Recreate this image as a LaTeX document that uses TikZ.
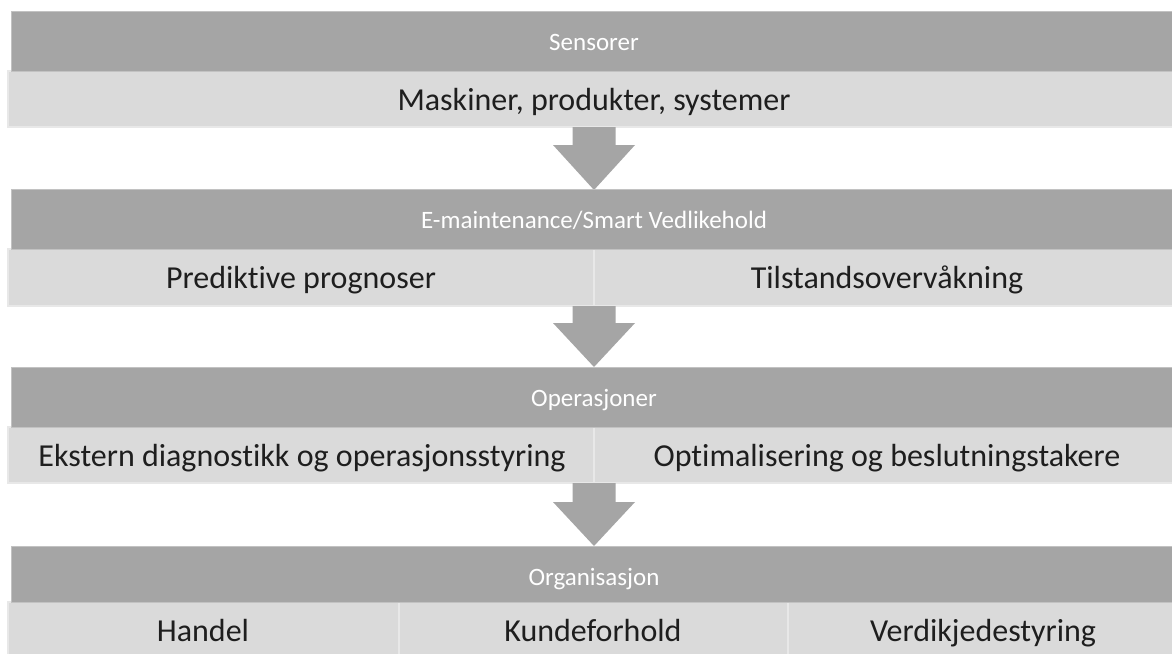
\documentclass[tikz,border=0pt]{standalone}
\usepackage{fontspec}
\setmainfont{Carlito}[Ligatures={NoCommon}]
\definecolor{hdr}{HTML}{A5A5A5}
\definecolor{cell}{HTML}{DADADA}
\definecolor{hdredge}{HTML}{C2C2C2}
\definecolor{celledge}{HTML}{E8E8E8}
\definecolor{celltextcol}{HTML}{1E1E1E}
\begin{document}
\begin{tikzpicture}[x=1pt,y=-1pt,
  hdrbox/.style={fill=hdr, draw=hdredge, line width=1pt},
  cellbox/.style={fill=cell, draw=celledge, line width=1.5pt},
  divider/.style={draw=celledge, line width=1.5pt},
  hdrtext/.style={text=white, font=\fontsize{25}{30}\selectfont, anchor=base, inner sep=0pt},
  celltext/.style={text=celltextcol, font=\fontsize{32}{38}\selectfont, anchor=base, inner sep=0pt},
  flowarrow/.style={fill=hdr, draw=none}]
\clip (0,0) rectangle (1172,653);
\fill[white] (0,0) rectangle (1172,653);

% block arrow: #1 = top of stem, #2 = start of head, #3 = tip
\newcommand\downarrowshape[3]{%
  \fill[flowarrow] (572.5,#1) -- (615.5,#1) -- (615.5,#2) -- (635,#2)
    -- (594,#3) -- (553,#2) -- (572.5,#2) -- cycle;}

% --- Sensorer
\draw[cellbox] (8,71) rectangle (1180,127);
\draw[hdrbox] (11,11) rectangle (1180,71);
\node[hdrtext] (sensorer) at (594,50) {Sensorer};
\node[celltext] (maskiner) at (594,110) {Maskiner, produkter, systemer};

\downarrowshape{127}{145}{190}

% --- E-maintenance
\draw[cellbox] (8,249) rectangle (1180,306);
\draw[divider] (594,249) -- (594,306);
\draw[hdrbox] (11,189) rectangle (1180,249);
\node[hdrtext] (emaint) at (594,228) {E-maintenance/Smart Vedlikehold};
\node[celltext] (prediktive) at (301,288) {Prediktive prognoser};
\node[celltext] (tilstand) at (887,288) {Tilstandsovervåkning};

\downarrowshape{306}{323}{367}

% --- Operasjoner
\draw[cellbox] (8,427) rectangle (1180,483);
\draw[divider] (594,427) -- (594,483);
\draw[hdrbox] (11,367) rectangle (1180,427);
\node[hdrtext] (operasjoner) at (594,406) {Operasjoner};
\node[celltext] (ekstern) at (302,466) {Ekstern diagnostikk og operasjonsstyring};
\node[celltext] (optimal) at (887,466) {Optimalisering og beslutningstakere};

\downarrowshape{483}{502}{546}

% --- Organisasjon
\draw[cellbox] (8,602) rectangle (1180,662);
\draw[divider] (399,602) -- (399,662);
\draw[divider] (788,602) -- (788,662);
\draw[hdrbox] (11,546) rectangle (1180,602);
\node[hdrtext] (organisasjon) at (594,585) {Organisasjon};
\node[celltext] (handel) at (203,641) {Handel};
\node[celltext] (kunde) at (593,641) {Kundeforhold};
\node[celltext] (verdi) at (983,641) {Verdikjedestyring};
\end{tikzpicture}
\end{document}
